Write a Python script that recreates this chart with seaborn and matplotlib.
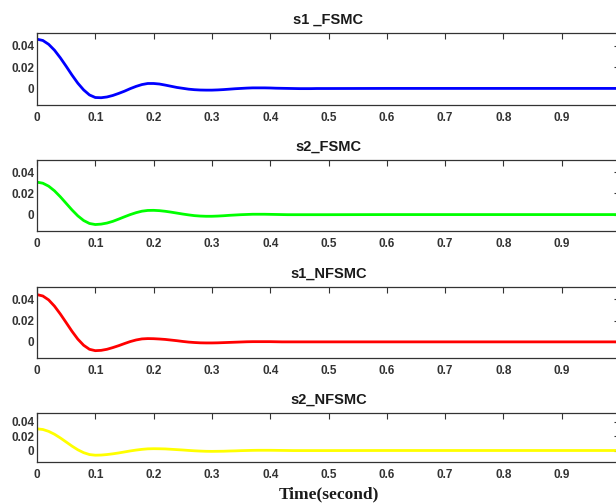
import numpy as np
import pandas as pd
import matplotlib
matplotlib.use("Agg")
import matplotlib.pyplot as plt
import seaborn as sns

# time samples (s)
time = [0.00, 0.01, 0.02, 0.03, 0.04, 0.05, 0.06, 0.07, 0.08, 0.09,
        0.10, 0.11, 0.12, 0.13, 0.14, 0.15, 0.16, 0.17, 0.18, 0.19,
        0.20, 0.21, 0.22, 0.23, 0.24, 0.25, 0.26, 0.27, 0.28, 0.29,
        0.30, 0.31, 0.32, 0.33, 0.34, 0.35, 0.36, 0.37, 0.38, 0.39,
        0.40, 0.41, 0.42, 0.43, 0.44, 0.45, 0.46, 0.47, 0.48, 0.49,
        0.50, 0.60, 0.70, 0.80, 0.90, 1.00]

s1_FSMC = [0.0460, 0.0448, 0.0412, 0.0357, 0.0286, 0.0207, 0.0125, 0.0049, -0.0014, -0.0061,
           -0.0085, -0.0087, -0.0080, -0.0066, -0.0047, -0.0026, -0.0002, 0.0019, 0.0036, 0.0046,
           0.0046, 0.0041, 0.0031, 0.0020, 0.0009, 0.0001, -0.0007, -0.0012, -0.0015, -0.0016,
           -0.0016, -0.0014, -0.0011, -0.0007, -0.0003, 0.0000, 0.0003, 0.0005, 0.0005, 0.0005,
           0.0004, 0.0002, 0.0001, 0.0000, -0.0001, -0.0002, -0.0002, -0.0002, -0.0001, -0.0001,
           -0.0001, 0.0000, 0.0000, 0.0000, 0.0000, 0.0000]

s2_FSMC = [0.0306, 0.0296, 0.0268, 0.0224, 0.0168, 0.0106, 0.0044, -0.0012, -0.0056, -0.0084,
           -0.0094, -0.0090, -0.0080, -0.0064, -0.0043, -0.0021, 0.0000, 0.0018, 0.0032, 0.0039,
           0.0040, 0.0037, 0.0031, 0.0023, 0.0014, 0.0005, -0.0003, -0.0010, -0.0014, -0.0016,
           -0.0016, -0.0014, -0.0011, -0.0007, -0.0004, -0.0001, 0.0001, 0.0003, 0.0003, 0.0003,
           0.0002, 0.0001, 0.0000, -0.0001, -0.0001, -0.0001, -0.0001, -0.0001, -0.0001, -0.0001,
           -0.0001, 0.0000, 0.0000, 0.0000, 0.0000, 0.0000]

s1_NFSMC = [0.0446, 0.0433, 0.0396, 0.0337, 0.0263, 0.0182, 0.0100, 0.0026, -0.0032, -0.0070,
            -0.0083, -0.0080, -0.0070, -0.0054, -0.0036, -0.0016, 0.0003, 0.0018, 0.0028, 0.0031,
            0.0030, 0.0027, 0.0023, 0.0017, 0.0011, 0.0004, -0.0002, -0.0006, -0.0009, -0.0010,
            -0.0010, -0.0009, -0.0007, -0.0005, -0.0003, -0.0001, 0.0001, 0.0002, 0.0002, 0.0002,
            0.0002, 0.0001, 0.0000, 0.0000, 0.0000, 0.0000, 0.0000, 0.0000, 0.0000, 0.0000,
            0.0000, 0.0000, 0.0000, 0.0000, 0.0000, 0.0000]

s2_NFSMC = [0.0300, 0.0291, 0.0265, 0.0225, 0.0174, 0.0118, 0.0061, 0.0010, -0.0030, -0.0056,
            -0.0065, -0.0063, -0.0056, -0.0046, -0.0034, -0.0020, -0.0006, 0.0006, 0.0016, 0.0023,
            0.0025, 0.0024, 0.0022, 0.0017, 0.0012, 0.0007, 0.0001, -0.0004, -0.0008, -0.0011,
            -0.0012, -0.0011, -0.0010, -0.0007, -0.0005, -0.0002, 0.0000, 0.0002, 0.0003, 0.0003,
            0.0003, 0.0002, 0.0001, 0.0000, -0.0001, -0.0001, -0.0001, -0.0001, -0.0001, -0.0001,
            -0.0001, 0.0000, 0.0000, 0.0000, 0.0000, 0.0000]

titles = ["s1 _FSMC", "s2_FSMC", "s1_NFSMC", "s2_NFSMC"]
series = [s1_FSMC, s2_FSMC, s1_NFSMC, s2_NFSMC]
colors = ["#0000ff", "#00ff00", "#ff0000", "#ffff00"]
x_ticks = [0, 0.1, 0.2, 0.3, 0.4, 0.5, 0.6, 0.7, 0.8, 0.9]
x_ticklabels = ["0", "0.1", "0.2", "0.3", "0.4", "0.5", "0.6", "0.7", "0.8", "0.9"]
y_ticks = [0, 0.02, 0.04]
y_ticklabels = ["0", "0.02", "0.04"]

sns.set_theme(style="white")
plt.rcParams["font.family"] = ["Liberation Sans", "DejaVu Sans"]

W, H = 616, 504
fig = plt.figure(figsize=(W / 100, H / 100), dpi=100)
fig.patch.set_facecolor("white")

# panel boxes in pixel coordinates (left, top, right, bottom)
boxes = [(37, 33.3, 620, 105), (37, 160, 620, 231), (37, 287.3, 620, 358.3), (37, 413.3, 620, 461.7)]

axes = []
for (l, t, r, b), title, vals, col in zip(boxes, titles, series, colors):
    ax = fig.add_axes([l / W, 1 - b / H, (r - l) / W, (b - t) / H])
    df = pd.DataFrame({"t": time, "v": vals})
    sns.lineplot(data=df, x="t", y="v", ax=ax, color=col, linewidth=2.0, legend=False)
    ax.set_xlim(0, 1.0)
    ax.set_ylim(-0.0155, 0.0515)
    ax.set_xticks(x_ticks)
    ax.set_xticklabels(x_ticklabels)
    ax.set_yticks(y_ticks)
    ax.set_yticklabels(y_ticklabels)
    ax.tick_params(axis="both", direction="in", length=4, width=0.8, color="#333333",
                   labelsize=8.5, labelcolor="#333333", top=True, right=True)
    ax.tick_params(axis="x", pad=5)
    ax.tick_params(axis="y", pad=2)
    for lab in ax.get_xticklabels() + ax.get_yticklabels():
        lab.set_fontweight("bold")
    for sp in ax.spines.values():
        sp.set_visible(True)
        sp.set_color("#333333")
        sp.set_linewidth(0.9)
    ax.set_title(title, fontsize=10.5, fontweight="bold", pad=7, color="#1a1a1a")
    ax.set_xlabel("")
    ax.set_ylabel("")
    axes.append(ax)

axes[-1].set_xlabel("Time(second)", fontsize=12.5, fontweight="bold",
                    family=["Liberation Serif", "DejaVu Serif"], labelpad=4, color="#1a1a1a")

fig.savefig("out.png", dpi=100, facecolor="white")
